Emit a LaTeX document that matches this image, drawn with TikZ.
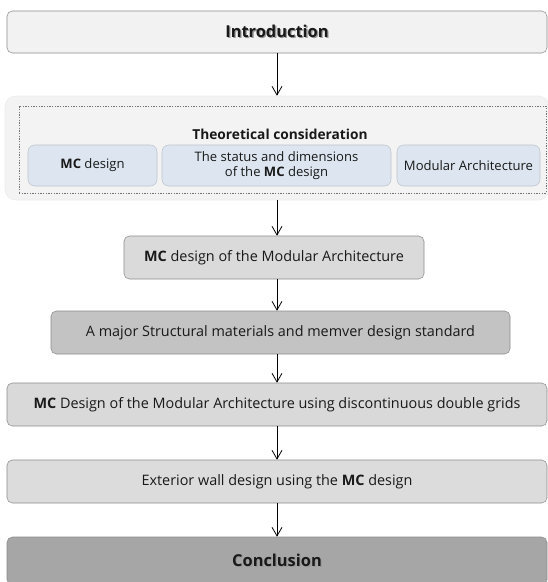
\documentclass[tikz,border=0pt]{standalone}
\usepackage{fontspec}
\setmainfont{Open Sans}
\usetikzlibrary{arrows.meta}

\definecolor{boxline}{RGB}{140,140,140}
\definecolor{introfill}{RGB}{242,242,242}
\definecolor{theofill}{RGB}{243,243,243}
\definecolor{subfill}{RGB}{221,230,240}
\definecolor{mcfill}{RGB}{218,218,218}
\definecolor{majorfill}{RGB}{195,195,195}
\definecolor{gridfill}{RGB}{217,217,217}
\definecolor{wallfill}{RGB}{220,220,220}
\definecolor{endfill}{RGB}{166,166,166}

\newcommand{\shadowtxt}[1]{\makebox[0pt][l]{\hspace{1pt}\raisebox{-1pt}{\textcolor{black!40}{#1}}}#1}

\tikzset{
  stage/.style={draw=boxline, rounded corners=4pt, inner sep=0pt, minimum height=32.25pt,
    text=black!90, font=\fontsize{10.8}{12}\selectfont},
  headline/.style={stage, font=\fontsize{12.3}{14}\selectfont\bfseries},
  sub/.style={fill=subfill, draw=subfill!85!black, rounded corners=5pt, inner sep=0pt,
    minimum height=30.75pt, align=center, text=black!90, font=\fontsize{9.8}{11.2}\selectfont},
  flow/.style={-{Straight Barb[length=6.5pt,width=7.5pt]}, line width=0.6pt}
}

\begin{document}
\begin{tikzpicture}[x=0.75pt,y=0.75pt,yscale=-1,xscale=1]
\useasboundingbox (0,0) rectangle (548,582);

% Introduction
\node[headline, fill=introfill, minimum width=405pt, minimum height=31.5pt] (intro) at (277,32) {\shadowtxt{Introduction}};

% Theoretical consideration block
\node[fill=theofill, draw=black!8, rounded corners=8pt, minimum width=408pt, minimum height=78pt] (theory) at (277,148) {};
\node[draw=black!55, dash pattern={on 1pt off 1pt}, minimum width=395.25pt, minimum height=65.25pt] (frame) at (282.5,149.5) {};
\node[font=\fontsize{10.3}{12}\selectfont\bfseries, text=black!90] (theotitle) at (280,134) {Theoretical consideration};
\node[sub, minimum width=96.75pt] (mcdes) at (92.5,165.5) {\textbf{MC} design};
\node[sub, minimum width=171.75pt] (status) at (276.5,165.5) {The status and dimensions\\of the \textbf{MC} design};
\node[sub, minimum width=107.25pt] (modarch) at (468.5,165.5) {Modular Architecture};

% Main steps
\node[stage, fill=mcfill, minimum width=225pt] (mcbox) at (274,257.5) {\textbf{MC} design of the Modular Architecture};
\node[stage, fill=majorfill, minimum width=344.25pt] (major) at (280.5,332.5) {A major Structural materials and memver design standard};
\node[stage, fill=gridfill, minimum width=405pt] (grids) at (277,404.5) {\textbf{MC} Design of the Modular Architecture using discontinuous double grids};
\node[stage, fill=wallfill, minimum width=405pt] (wall) at (277,481.5) {Exterior wall design using the \textbf{MC} design};
\node[headline, fill=endfill, minimum width=405pt, minimum height=36pt] (concl) at (277,561) {\shadowtxt{Conclusion}};

% Arrows
\draw[flow] (intro.south) -- (theory.north);
\draw[flow] (theory.south) -- (mcbox.north -| theory.south);
\draw[flow] (mcbox.south -| intro.south) -- (major.north -| intro.south);
\draw[flow] (major.south -| intro.south) -- (grids.north);
\draw[flow] (grids.south) -- (wall.north);
\draw[flow] (wall.south) -- (concl.north);

\end{tikzpicture}
\end{document}
